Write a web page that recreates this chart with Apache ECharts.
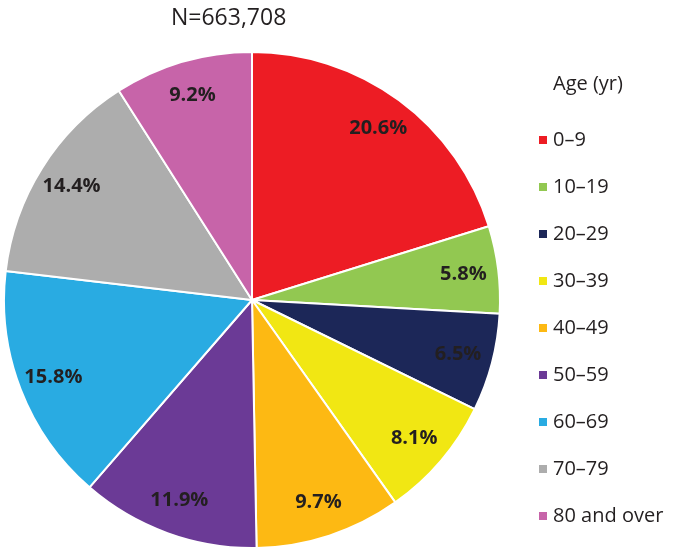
<!DOCTYPE html>
<html><head><meta charset="utf-8">
<script src="https://cdn.jsdelivr.net/npm/echarts@6/dist/echarts.min.js"></script>
<style>html,body{margin:0;padding:0;background:#fff}#c{width:673px;height:551px}</style>
</head><body><div id="c"></div>
<script>
const categories = ['0–9','10–19','20–29','30–39','40–49','50–59','60–69','70–79','80 and over'];
const values = [20.6, 5.8, 6.5, 8.1, 9.7, 11.9, 15.8, 14.4, 9.2];
const colors = ['#ed1c24','#92c851','#1c2758','#f1e713','#fdb913','#6b3a96','#29abe2','#adadad','#c764a9'];
const totalLabel = 'N=663,708';
const legendTitle = 'Age (yr)';

const FONT = '"Open Sans", sans-serif';
const data = categories.map((c,i)=>({name:c, value:values[i], itemStyle:{color:colors[i]}}));
const chart = echarts.init(document.getElementById('c'));
chart.setOption({
  animation:false,
  title:[
    {text:totalLabel, left:166, top:2, textStyle:{fontFamily:FONT, fontWeight:'normal', fontSize:23, color:'#231f20'}},
    {text:legendTitle, left:548, top:69, textStyle:{fontFamily:FONT, fontWeight:'normal', fontSize:20, color:'#231f20'}}
  ],
  legend:{
    orient:'vertical', left:532, top:123, height:440, icon:'rect', itemWidth:10, itemHeight:10,
    itemGap:23, data:categories,
    textStyle:{fontFamily:FONT, fontSize:20, color:'#231f20', lineHeight:22, padding:[2,0,0,0]}
  },
  series:[
    {type:'pie', center:[252,300], radius:[0,248], startAngle:90, clockwise:true,
     label:{show:false}, labelLine:{show:false},
     itemStyle:{borderColor:'#fff', borderWidth:2}, data:data},
    {type:'pie', center:[252,300], radius:[172,248], startAngle:90, clockwise:true, silent:true,
     legendHoverLink:false,
     itemStyle:{color:'rgba(0,0,0,0)', borderWidth:0},
     label:{show:true, position:'inside', formatter:p=>p.value.toFixed(1)+'%', fontFamily:FONT, fontWeight:'bold', fontSize:20, color:'#231f20'},
     labelLine:{show:false},
     data:categories.map((c,i)=>({name:c, value:values[i]}))}
  ]
});
</script></body></html>
